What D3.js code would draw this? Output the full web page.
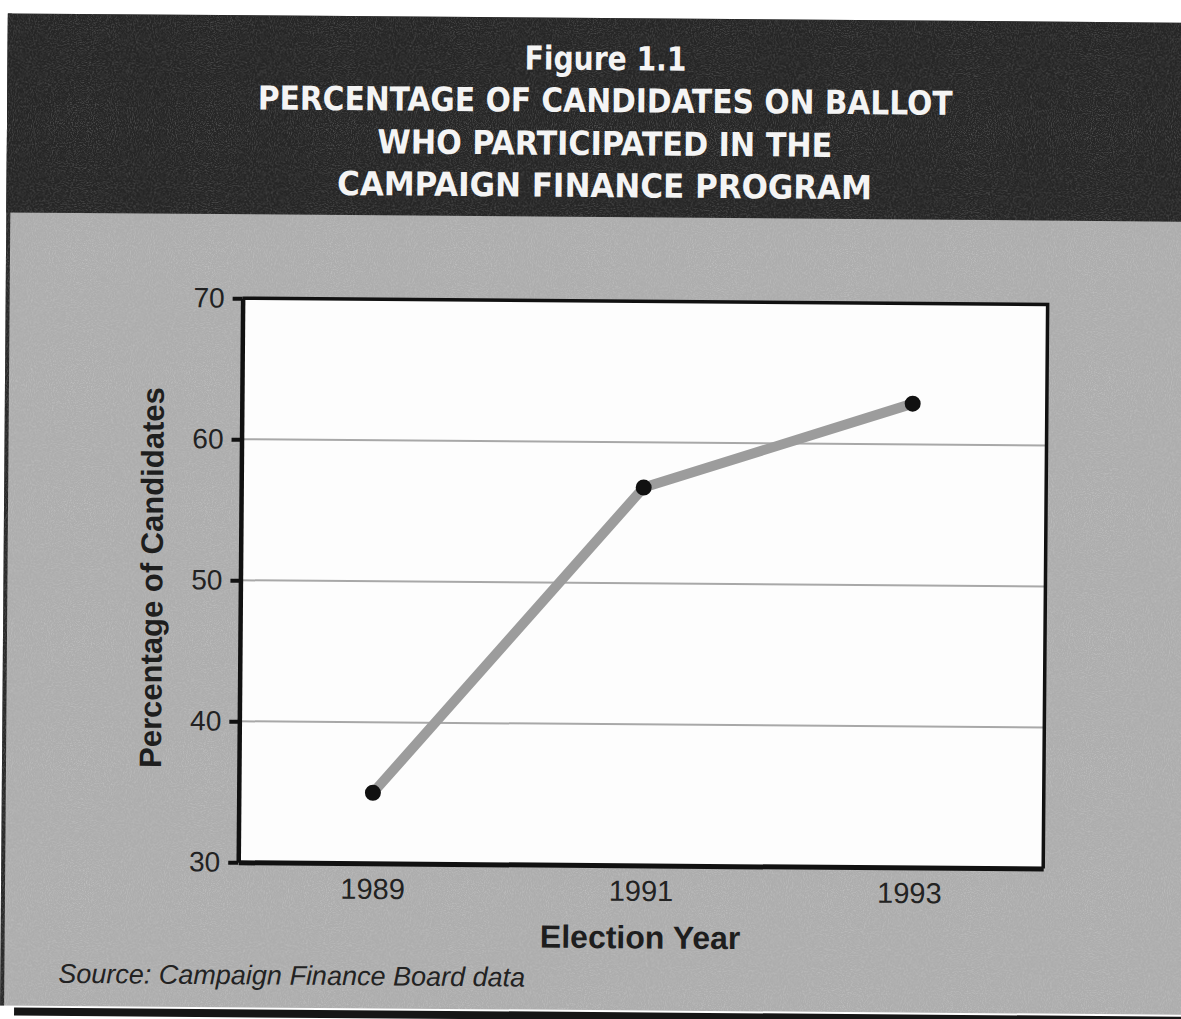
<!DOCTYPE html>
<html>
<head>
<meta charset="utf-8">
<script src="https://cdn.jsdelivr.net/npm/d3@7"></script>
<style>
  html, body { margin: 0; padding: 0; background: #ffffff; }
  svg { display: block; }
</style>
</head>
<body>
<svg id="chart" width="1181" height="1019"></svg>
<script>
// Election years and share of ballot candidates in the program (%)
const years = ["1989", "1991", "1993"];
const percentages = [35.0, 56.8, 62.9];
const yTicks = [30, 40, 50, 60, 70];
const titleLines = [
  "Figure 1.1",
  "PERCENTAGE OF CANDIDATES ON BALLOT",
  "WHO PARTICIPATED IN THE",
  "CAMPAIGN FINANCE PROGRAM"
];
const xTitle = "Election Year";
const yTitle = "Percentage of Candidates";
const sourceNote = "Source: Campaign Finance Board data";

const svg = d3.select("#chart");

// paper grain for the printed panels
const defs = svg.append("defs");
const grain = defs.append("filter").attr("id", "grain")
  .attr("x", 0).attr("y", 0).attr("width", "100%").attr("height", "100%");
grain.append("feTurbulence").attr("type", "fractalNoise")
  .attr("baseFrequency", 0.95).attr("numOctaves", 2).attr("seed", 4).attr("result", "n");
grain.append("feColorMatrix").attr("type", "matrix")
  .attr("values", "0 0 0 0 1  0 0 0 0 1  0 0 0 0 1  0 0 0 1.8 -0.8");

// whole page sits slightly skewed
const page = svg.append("g").attr("transform", "rotate(0.45, 590, 510)");

// gray panel and black header band
page.append("rect").attr("x", 4).attr("y", 18).attr("width", 1200).attr("height", 992)
  .attr("fill", "#adadad");
page.append("rect").attr("x", 18).attr("y", 1012).attr("width", 1200).attr("height", 8)
  .attr("fill", "#161616");
page.append("rect").attr("x", 4).attr("y", 18).attr("width", 4).attr("height", 992)
  .attr("fill", "#2a2a2a");
page.append("rect").attr("x", 4).attr("y", 18).attr("width", 1200).attr("height", 199)
  .attr("fill", "#262626");
page.append("rect").attr("x", 4).attr("y", 18).attr("width", 1200).attr("height", 992)
  .attr("fill", "#ffffff").attr("filter", "url(#grain)").attr("opacity", 0.3);

// title block
const titleY = [70, 112, 155, 197];
const titleW = [162, 695, 455, 535];
page.append("g").selectAll("text").data(titleLines).join("text")
  .attr("x", 602)
  .attr("y", (d, i) => titleY[i])
  .attr("text-anchor", "middle")
  .attr("fill", "#f4f4f4")
  .attr("font-family", "'DejaVu Sans Condensed', 'DejaVu Sans', sans-serif")
  .attr("font-weight", "bold")
  .attr("font-size", 33)
  .attr("textLength", (d, i) => titleW[i])
  .attr("lengthAdjust", "spacingAndGlyphs")
  .text(d => d);

// plot area
const plot = { left: 241, top: 301, width: 805, height: 564 };

const x = d3.scalePoint().domain(years)
  .range([plot.left, plot.left + plot.width]).padding(0.5);
const y = d3.scaleLinear().domain([30, 70])
  .range([plot.top + plot.height, plot.top]);

page.append("rect")
  .attr("x", plot.left).attr("y", plot.top)
  .attr("width", plot.width).attr("height", plot.height)
  .attr("fill", "#fdfdfd");

// horizontal gridlines
page.append("g").selectAll("line")
  .data(yTicks.filter(t => t > 30 && t < 70)).join("line")
  .attr("x1", plot.left).attr("x2", plot.left + plot.width)
  .attr("y1", d => y(d)).attr("y2", d => y(d))
  .attr("stroke", "#a8a8a8").attr("stroke-width", 2);

// frame: top and right edges
page.append("path")
  .attr("d", `M${plot.left},${plot.top}H${plot.left + plot.width}V${plot.top + plot.height}`)
  .attr("fill", "none").attr("stroke", "#111").attr("stroke-width", 3.5);

// y axis
const yAxis = page.append("g")
  .attr("transform", `translate(${plot.left},0)`)
  .call(d3.axisLeft(y).tickValues(yTicks).tickSize(10).tickPadding(8).tickSizeOuter(0));
yAxis.select(".domain").attr("stroke", "#111").attr("stroke-width", 4.5);
yAxis.selectAll(".tick line").attr("stroke", "#111").attr("stroke-width", 4);
yAxis.selectAll(".tick text")
  .attr("font-family", "'Liberation Sans', Arial, sans-serif")
  .attr("font-size", 28).attr("fill", "#222");

// x axis
const xAxis = page.append("g")
  .attr("transform", `translate(0,${plot.top + plot.height})`)
  .call(d3.axisBottom(x).tickSize(0).tickPadding(15).tickSizeOuter(0));
xAxis.select(".domain").attr("stroke", "#111").attr("stroke-width", 5);
xAxis.selectAll(".tick text")
  .attr("font-family", "'Liberation Sans', Arial, sans-serif")
  .attr("font-size", 29).attr("fill", "#222");

// participation line and markers
const points = years.map((yr, i) => ({ year: yr, value: percentages[i] }));
page.append("path").datum(points)
  .attr("d", d3.line().x(d => x(d.year)).y(d => y(d.value)))
  .attr("fill", "none").attr("stroke", "#9c9c9c").attr("stroke-width", 10)
  .attr("stroke-linejoin", "round");
page.append("g").selectAll("circle").data(points).join("circle")
  .attr("cx", d => x(d.year)).attr("cy", d => y(d.value))
  .attr("r", 8).attr("fill", "#111");

// axis titles
page.append("text")
  .attr("x", x("1991")).attr("y", 948)
  .attr("text-anchor", "middle")
  .attr("font-family", "'Liberation Sans', Arial, sans-serif")
  .attr("font-weight", "bold").attr("font-size", 32).attr("fill", "#1e1e1e")
  .text(xTitle);
page.append("text")
  .attr("transform", `translate(163,${plot.top + plot.height / 2 - 2}) rotate(-90)`)
  .attr("text-anchor", "middle")
  .attr("font-family", "'Liberation Sans', Arial, sans-serif")
  .attr("font-weight", "bold").attr("font-size", 31).attr("fill", "#1e1e1e")
  .text(yTitle);

// source line
page.append("text")
  .attr("x", 62).attr("y", 987)
  .attr("font-family", "'Liberation Sans', Arial, sans-serif")
  .attr("font-style", "italic").attr("font-size", 27).attr("fill", "#222")
  .text(sourceNote);
</script>
</body>
</html>
